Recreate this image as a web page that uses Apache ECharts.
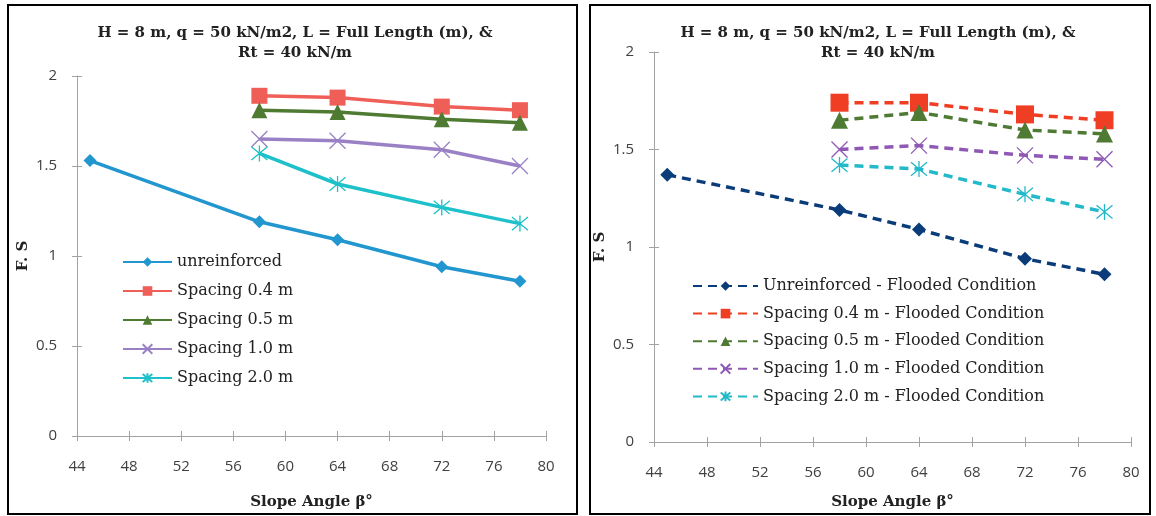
<!DOCTYPE html>
<html><head><meta charset="utf-8">
<script src="https://cdn.jsdelivr.net/npm/echarts@6/dist/echarts.min.js"></script>
<style>html,body{margin:0;padding:0;background:#fff}#c{width:1156px;height:516px}</style>
</head><body><div id="c"></div>
<script>
// ---------- data ----------
const titleLine1 = 'H = 8 m, q = 50 kN/m2, L = Full Length (m), &';
const titleLine2 = 'Rt = 40 kN/m';
const xAxisName = 'Slope Angle β°';
const yAxisName = 'F. S';
const xMin = 44, xMax = 80, xStep = 4;
const yMin = 0, yMax = 2, yStep = 0.5;

const anglesUnreinforced = [45, 58, 64, 72, 78];
const anglesReinforced = [58, 64, 72, 78];

const leftNames = ['unreinforced', 'Spacing 0.4 m', 'Spacing 0.5 m', 'Spacing 1.0 m', 'Spacing 2.0 m'];
const leftUnreinforced = [1.53, 1.19, 1.09, 0.94, 0.86];
const leftSpacing04 = [1.89, 1.88, 1.83, 1.81];
const leftSpacing05 = [1.81, 1.80, 1.76, 1.74];
const leftSpacing10 = [1.65, 1.64, 1.59, 1.50];
const leftSpacing20 = [1.57, 1.40, 1.27, 1.18];

const rightNames = ['Unreinforced - Flooded Condition', 'Spacing 0.4 m - Flooded Condition', 'Spacing 0.5 m - Flooded Condition', 'Spacing 1.0 m - Flooded Condition', 'Spacing 2.0 m - Flooded Condition'];
const rightUnreinforced = [1.37, 1.19, 1.09, 0.94, 0.86];
const rightSpacing04 = [1.74, 1.74, 1.68, 1.65];
const rightSpacing05 = [1.65, 1.69, 1.60, 1.58];
const rightSpacing10 = [1.50, 1.52, 1.47, 1.45];
const rightSpacing20 = [1.42, 1.40, 1.27, 1.18];

// ---------- styling ----------
const SERIF = '"DejaVu Serif", "Liberation Serif", serif';
const SANS = '"Open Sans", "Noto Sans", "Liberation Sans", sans-serif';
const AXIS_GRAY = '#a3a3a3';
const leftColors = ['#2196cf', '#ef5f58', '#4e7a32', '#9a80c4', '#1ec0c9'];
const rightColors = ['#0b3c7a', '#ef3e24', '#4f7a34', '#8e58b4', '#22b9c9'];
const X_PATH = 'path://M0,0L10,10M10,0L0,10';
const STAR_PATH = 'path://M0,0L10,10M10,0L0,10M5,-1L5,11';
const symbols = ['diamond', 'rect', 'triangle', X_PATH, STAR_PATH];
const leftSizes = [13, 16, 16, 16, 16];
const rightSizes = [14, 18, 17, 16, 16];

function zip(xs, ys) { return xs.map((x, i) => [x, ys[i]]); }

const leftData = [zip(anglesUnreinforced, leftUnreinforced), zip(anglesReinforced, leftSpacing04), zip(anglesReinforced, leftSpacing05), zip(anglesReinforced, leftSpacing10), zip(anglesReinforced, leftSpacing20)];
const rightData = [zip(anglesUnreinforced, rightUnreinforced), zip(anglesReinforced, rightSpacing04), zip(anglesReinforced, rightSpacing05), zip(anglesReinforced, rightSpacing10), zip(anglesReinforced, rightSpacing20)];

function mkSeries(names, data, colors, sizes, idx, dashed) {
  return names.map((n, i) => {
    const stroked = i >= 3;
    return {
      name: n, type: 'line', xAxisIndex: idx, yAxisIndex: idx,
      data: data[i], symbol: symbols[i], symbolSize: sizes[i],
      showAllSymbol: true,
      lineStyle: { color: colors[i], width: 3.5, type: dashed ? [9, 6] : 'solid' },
      itemStyle: { color: colors[i], borderColor: colors[i], borderWidth: stroked ? 1.3 : 0 },
      emphasis: { disabled: true },
      z: 2 + i
    };
  });
}

function mkX(idx, labelMargin, nameGap) {
  return {
    type: 'value', gridIndex: idx, min: xMin, max: xMax, interval: xStep, position: 'bottom',
    name: xAxisName, nameLocation: 'middle', nameGap: nameGap,
    nameTextStyle: { fontFamily: SERIF, fontWeight: 'bold', fontSize: 15, color: '#222' },
    axisLine: { show: true, lineStyle: { color: AXIS_GRAY, width: 1 } },
    axisTick: { show: true, length: 5, lineStyle: { color: AXIS_GRAY } },
    axisLabel: { fontFamily: SANS, fontSize: 15, color: '#404040', margin: labelMargin },
    splitLine: { show: false }
  };
}
function mkY(idx, nameGap) {
  return {
    type: 'value', gridIndex: idx, min: yMin, max: yMax, interval: yStep, position: 'left',
    name: yAxisName, nameLocation: 'middle', nameGap: nameGap,
    nameTextStyle: { fontFamily: SERIF, fontWeight: 'bold', fontSize: 15, color: '#222' },
    axisLine: { show: true, lineStyle: { color: AXIS_GRAY, width: 1 } },
    axisTick: { show: true, length: 5, lineStyle: { color: AXIS_GRAY } },
    axisLabel: { fontFamily: SANS, fontSize: 15, color: '#404040', margin: 20 },
    splitLine: { show: false }
  };
}
// duplicate axes only to draw the inner half of the crossing tick marks
function innerTicks(kind, idx) {
  const base = kind === 'x'
    ? { min: xMin, max: xMax, interval: xStep, position: 'bottom' }
    : { min: yMin, max: yMax, interval: yStep, position: 'left' };
  return Object.assign({ type: 'value', gridIndex: idx, offset: 0,
    axisLine: { show: false }, axisLabel: { show: false }, splitLine: { show: false },
    axisTick: { show: true, inside: true, length: 5, lineStyle: { color: AXIS_GRAY } } }, base);
}

const titleFont = 'bold 15px ' + SERIF;
const chart = echarts.init(document.getElementById('c'), null, { renderer: 'canvas' });
chart.setOption({
  animation: false,
  backgroundColor: '#fff',
  grid: [
    { left: 77, right: 1156 - 546, top: 76, bottom: 516 - 436 },
    { left: 654, right: 1156 - 1131, top: 52, bottom: 516 - 442 }
  ],
  xAxis: [mkX(0, 23, 59), mkX(1, 23, 53), innerTicks('x', 0), innerTicks('x', 1)],
  yAxis: [mkY(0, 46), mkY(1, 46), innerTicks('y', 0), innerTicks('y', 1)],
  legend: [
    { data: leftNames, orient: 'vertical', left: 117, top: 249, itemWidth: 49, itemHeight: 12, itemGap: 13,
      textStyle: { fontFamily: SERIF, fontSize: 16, color: '#222', lineHeight: 16 }, selectedMode: false },
    { data: rightNames, orient: 'vertical', left: 687, top: 273, itemWidth: 65, itemHeight: 12, itemGap: 11.6,
      textStyle: { fontFamily: SERIF, fontSize: 16, color: '#222', lineHeight: 16 }, selectedMode: false }
  ],
  graphic: [
    { type: 'rect', shape: { x: 8, y: 5, width: 569, height: 509 }, style: { fill: 'none', stroke: '#000', lineWidth: 2 }, silent: true },
    { type: 'rect', shape: { x: 590, y: 5, width: 560, height: 509 }, style: { fill: 'none', stroke: '#000', lineWidth: 2 }, silent: true },
    { type: 'text', x: 295, y: 33, style: { text: titleLine1, font: titleFont, fill: '#222', textAlign: 'center', textVerticalAlign: 'middle' } },
    { type: 'text', x: 295, y: 53, style: { text: titleLine2, font: titleFont, fill: '#222', textAlign: 'center', textVerticalAlign: 'middle' } },
    { type: 'text', x: 878, y: 33, style: { text: titleLine1, font: titleFont, fill: '#222', textAlign: 'center', textVerticalAlign: 'middle' } },
    { type: 'text', x: 878, y: 53, style: { text: titleLine2, font: titleFont, fill: '#222', textAlign: 'center', textVerticalAlign: 'middle' } }
  ],
  series: [].concat(
    mkSeries(leftNames, leftData, leftColors, leftSizes, 0, false),
    mkSeries(rightNames, rightData, rightColors, rightSizes, 1, true)
  )
});
</script></body></html>
